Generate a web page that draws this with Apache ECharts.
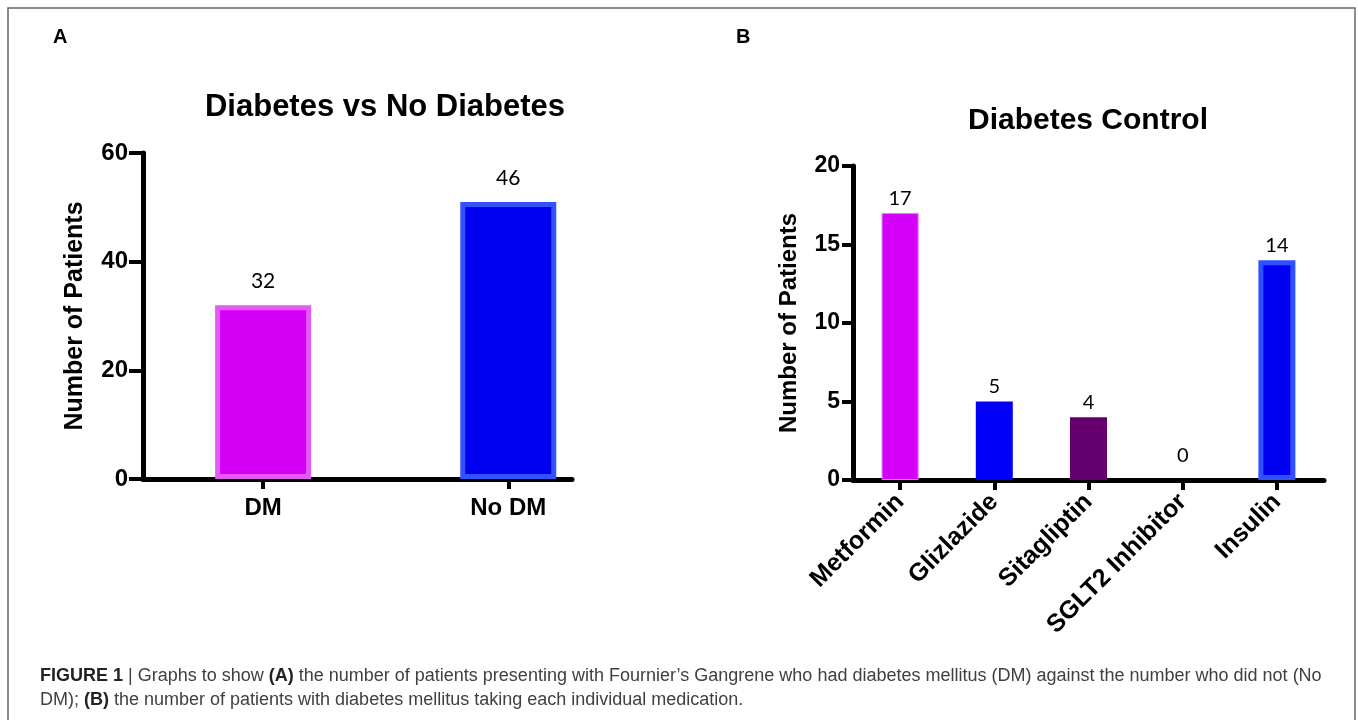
<!DOCTYPE html>
<html>
<head>
<meta charset="utf-8">
<title>Figure 1</title>
<script src="https://cdn.jsdelivr.net/npm/echarts@6/dist/echarts.min.js"></script>
<style>
  html, body { margin: 0; padding: 0; background: #fff; }
  #chart { width: 1358px; height: 720px; }
</style>
</head>
<body>
<div id="chart"></div>
<script>
// panel A
const aCategories = ['DM', 'No DM']
const aBarValues = [32, 51]        // bar heights as drawn
const aLabelTexts = ['32', '46']   // numbers printed above the bars
// panel B
const bCategories = ['Metformin', 'Glizlazide', 'Sitagliptin', 'SGLT2 Inhibitor', 'Insulin']
const bValues = [17, 5, 4, 0, 14]

const aColors = ['#d400f6', '#0000f0']
const aBorders = ['#e35af6', '#3352ff']
const bColors = ['#d500f9', '#0000f8', '#660070', '#0000f5', '#0000f0']
const bBorders = ['#e070f8', '#0000f8', '#660070', '#0000f5', '#3050ff']
const bBorderWidths = [1, 0, 0, 0, 5]

const font = '"Liberation Sans", Arial, sans-serif'
const numFont = 'Lato, "Open Sans", sans-serif'

const axisLine = { show: true, onZero: false, lineStyle: { color: '#000', width: 5 } }
const axisTick = { show: true, length: 12, lineStyle: { color: '#000', width: 4 } }
const tickLabel = { color: '#000', fontFamily: font, fontWeight: 'bold', fontSize: 24 }
const axisName = { color: '#000', fontFamily: font, fontWeight: 'bold', fontSize: 25 }

const option = {
  backgroundColor: '#fff',
  animation: false,
  grid: [
    { left: 143, top: 153, width: 429, height: 326 },
    { left: 853, top: 166, width: 471, height: 314 }
  ],
  xAxis: [
    {
      gridIndex: 0,
      type: 'value',
      min: -0.49,
      max: 1.26,
      axisLine: axisLine,
      axisTick: Object.assign({}, axisTick, { customValues: [0, 1], length: 10 }),
      axisLabel: Object.assign({}, tickLabel, {
        customValues: [0, 1],
        margin: 17,
        formatter: v => aCategories[v] || ''
      }),
      splitLine: { show: false }
    },
    {
      gridIndex: 1,
      type: 'category',
      data: bCategories,
      axisLine: axisLine,
      axisTick: Object.assign({}, axisTick, { alignWithLabel: true, length: 10 }),
      axisLabel: Object.assign({}, tickLabel, { rotate: 45, interval: 0, margin: 18, fontSize: 25 }),
      splitLine: { show: false }
    }
  ],
  yAxis: [
    {
      gridIndex: 0,
      type: 'value',
      min: 0,
      max: 60,
      interval: 20,
      axisLine: axisLine,
      axisTick: Object.assign({}, axisTick, { length: 14 }),
      axisLabel: Object.assign({}, tickLabel, { margin: 15 }),
      splitLine: { show: false },
      name: 'Number of Patients',
      nameLocation: 'middle',
      nameGap: 55,
      nameTextStyle: axisName
    },
    {
      gridIndex: 1,
      type: 'value',
      min: 0,
      max: 20,
      interval: 5,
      axisLine: axisLine,
      axisTick: Object.assign({}, axisTick, { length: 11 }),
      axisLabel: Object.assign({}, tickLabel, { margin: 13, fontSize: 23 }),
      splitLine: { show: false },
      name: 'Number of Patients',
      nameLocation: 'middle',
      nameGap: 52,
      nameTextStyle: Object.assign({}, axisName, { fontSize: 24 })
    }
  ],
  series: [
    {
      type: 'bar',
      xAxisIndex: 0,
      yAxisIndex: 0,
      barWidth: 96,
      data: aBarValues.map((v, i) => ({
        value: [i, v],
        itemStyle: { color: aColors[i], borderColor: aBorders[i], borderWidth: 5 },
        label: { formatter: aLabelTexts[i] }
      })),
      label: {
        show: true,
        position: 'top',
        distance: 13,
        color: '#000',
        fontFamily: numFont,
        fontSize: 21
      }
    },
    {
      type: 'bar',
      xAxisIndex: 1,
      yAxisIndex: 1,
      barWidth: 37,
      data: bValues.map((v, i) => ({
        value: v,
        itemStyle: { color: bColors[i], borderColor: bBorders[i], borderWidth: bBorderWidths[i] },
        label: { distance: v === 0 ? 14 : 5 }
      })),
      label: {
        show: true,
        position: 'top',
        color: '#000',
        fontFamily: numFont,
        fontSize: 20
      }
    }
  ],
  graphic: [
    {
      type: 'rect',
      shape: { x: 8, y: 8, width: 1347, height: 730 },
      style: { fill: 'none', stroke: '#666', lineWidth: 1.5 }
    },
    { type: 'text', x: 53, y: 37, style: { text: 'A', font: 'bold 20px ' + font, fill: '#000', textVerticalAlign: 'middle' } },
    { type: 'text', x: 736, y: 37, style: { text: 'B', font: 'bold 20px ' + font, fill: '#000', textVerticalAlign: 'middle' } },
    {
      type: 'text', x: 385, y: 107,
      style: { text: 'Diabetes vs No Diabetes', font: 'bold 31px ' + font, fill: '#000', textAlign: 'center', textVerticalAlign: 'middle' }
    },
    {
      type: 'text', x: 1088, y: 121,
      style: { text: 'Diabetes Control', font: 'bold 30px ' + font, fill: '#000', textAlign: 'center', textVerticalAlign: 'middle' }
    },
    {
      type: 'text', x: 40, y: 664,
      style: {
        text: '{b|FIGURE 1} | Graphs to show {b|(A)} the number of patients presenting with Fournier\u2019s Gangrene who had diabetes mellitus (DM) against the number who did not (No\n' +
              'DM); {b|(B)} the number of patients with diabetes mellitus taking each individual medication.',
        font: '18px ' + font,
        fill: '#404040',
        lineHeight: 24,
        textVerticalAlign: 'top',
        rich: {
          b: { fontWeight: 'bold', fontSize: 18, fontFamily: font, fill: '#222', lineHeight: 24 }
        }
      }
    }
  ]
}

const chart = echarts.init(document.getElementById('chart'))
chart.setOption(option)
</script>
</body>
</html>
